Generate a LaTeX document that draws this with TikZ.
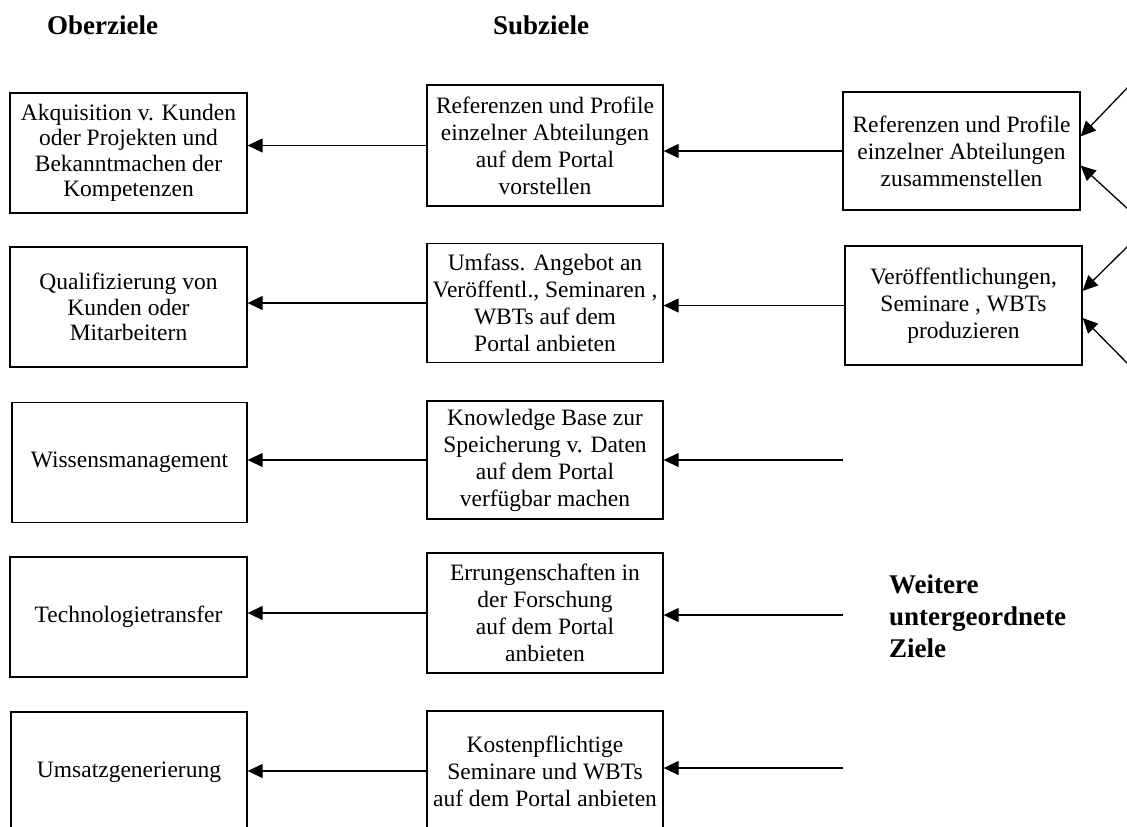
\documentclass[tikz,border=0pt]{standalone}
\usepackage{fontspec}
\setmainfont{Liberation Serif}
\usetikzlibrary{arrows.meta}
\tikzset{
  ziel/.style={draw,line width=1.3pt,align=center,inner sep=0pt,
    font=\fontsize{23.5}{25.5}\selectfont},
  oben/.style={ziel,minimum width=237pt,minimum height=120pt},
  sub/.style={ziel,minimum width=236pt,minimum height=119pt,
    font=\fontsize{23.5}{27}\selectfont},
  unter/.style={ziel,minimum width=237pt,minimum height=118pt,
    font=\fontsize{23.5}{27}\selectfont},
  pfeil/.style={line width=1.3pt,-{Triangle[length=15pt,width=14pt]}},
  kopf/.style={font=\fontsize{27}{30}\selectfont\bfseries}
}
\begin{document}
\begin{tikzpicture}[x=1pt,y=-1pt]
\clip (0,0) rectangle (1127,827);
\useasboundingbox (0,0) rectangle (1127,827);
\node[kopf] (ober) at (102.5,25) {Oberziele};
\node[kopf] (subz) at (541,25) {Subziele};
\node[oben] (o1) at (128.5,153) {Akquisition v. Kunden\\oder Projekten und\\Bekanntmachen der\\Kompetenzen};
\node[oben] (o2) at (128.5,307) {Qualifizierung von\\Kunden oder\\Mitarbeitern};
\node[oben,minimum width=235pt] (o3) at (129.5,462.5) {Wissensmanagement};
\node[oben] (o4) at (128.5,617) {Technologietransfer};
\node[oben,minimum width=236pt] (o5) at (129,772) {Umsatzgenerierung};
\node[sub,minimum height=121pt] (m1) at (545,145.5) {Referenzen und Profile\\einzelner Abteilungen\\auf dem Portal\\vorstellen};
\node[sub] (m2) at (545,303) {Umfass. Angebot an\\Veröffentl., Seminaren ,\\WBTs auf dem\\Portal anbieten};
\node[sub,minimum height=118pt] (m3) at (545,460) {Knowledge Base zur\\Speicherung v. Daten\\auf dem Portal\\verfügbar machen};
\node[sub,minimum height=120pt] (m4) at (545,613) {Errungenschaften in\\der Forschung\\auf dem Portal\\anbieten};
\node[sub,minimum height=120pt] (m5) at (545,771) {Kostenpflichtige\\Seminare und WBTs\\auf dem Portal anbieten};
\node[unter] (r1) at (961.5,151) {Referenzen und Profile\\einzelner Abteilungen\\zusammenstellen};
\node[unter,minimum height=119pt] (r2) at (963.5,305.5) {Veröffentlichungen,\\Seminare , WBTs\\produzieren};
\node[anchor=north west,inner sep=0pt,align=left,font=\fontsize{27}{32}\selectfont\bfseries] (weitere) at (889,575) {Weitere\\untergeordnete\\Ziele};
\coordinate (e3) at (843,460);
\coordinate (e4) at (843,615);
\coordinate (e5) at (843,768);
\coordinate (d1) at (1131,84);
\coordinate (d2) at (1129,210);
\coordinate (d3) at (1129,245);
\coordinate (d4) at (1129,365);
\draw[pfeil] (m1.west) -- (m1.west -| o1.east);
\draw[pfeil] (m2.west) -- (m2.west -| o2.east);
\draw[pfeil] (m3.west) -- (m3.west -| o3.east);
\draw[pfeil] (m4.west) -- (m4.west -| o4.east);
\draw[pfeil] (m5.west) -- (m5.west -| o5.east);
\draw[pfeil] (r1.west) -- (r1.west -| m1.east);
\draw[pfeil] (r2.west) -- (r2.west -| m2.east);
\draw[pfeil] (e3) -- (e3 -| m3.east);
\draw[pfeil] (e4) -- (e4 -| m4.east);
\draw[pfeil] (e5) -- (e5 -| m5.east);
\draw[pfeil] (d1) -- (r1.7);
\draw[pfeil] (d2) -- (r1.-7);
\draw[pfeil] (d3) -- (r2.7);
\draw[pfeil] (d4) -- (r2.-6);
\end{tikzpicture}
\end{document}
